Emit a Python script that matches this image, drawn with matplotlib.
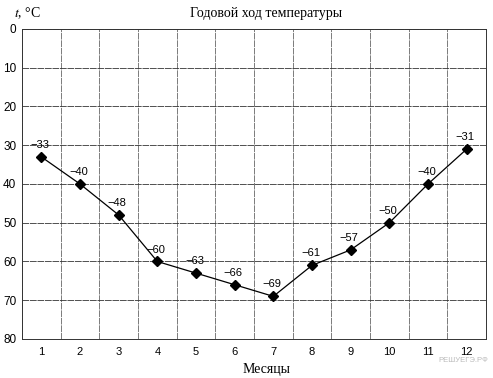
import matplotlib.pyplot as plt

months = list(range(1, 13))
temps = [-33, -40, -48, -60, -63, -66, -69, -61, -57, -50, -40, -31]
y_ticks = [0, 10, 20, 30, 40, 50, 60, 70, 80]

plt.rcParams['mathtext.fontset'] = 'stix'

fig = plt.figure(figsize=(4.93, 3.78), dpi=100)
ax = fig.add_axes([0.0446, 0.1032, 0.9412, 0.8201])

depth = [-t for t in temps]
ax.plot(months, depth, color='black', linewidth=0.9, marker='D', markersize=5,
        markerfacecolor='black', zorder=3)
for m, t, d in zip(months, temps, depth):
    ax.annotate('\u2212' + str(abs(t)), (m, d), xytext=(-1, 5), textcoords='offset points',
                ha='center', va='bottom', fontsize=8, family='Liberation Sans')

ax.set_xlim(0.5, 12.5)
ax.set_ylim(80, 0)
ax.set_xticks(months)
ax.set_xticks([m + 0.5 for m in range(0, 12)], minor=True)
ax.set_yticks(y_ticks)
ax.set_yticklabels([str(v) for v in y_ticks])
ax.tick_params(axis='x', which='both', length=0, labelsize=8, pad=6)
ax.tick_params(axis='y', length=0, labelsize=8.5, pad=4)
for lbl in ax.get_xticklabels() + ax.get_yticklabels():
    lbl.set_family('Liberation Sans')

ax.grid(True, which='minor', axis='x', color='#666666', linewidth=0.6, linestyle=(0, (8, 1)))
ax.grid(True, which='major', axis='y', color='#333333', linewidth=0.6, linestyle=(0, (8, 1)))
for s in ax.spines.values():
    s.set_linewidth(0.7)
    s.set_color('#333333')

fig.text(0.54, 0.965, 'Годовой ход температуры', ha='center', va='center',
         fontsize=10, family='Liberation Serif')
fig.text(0.028, 0.965, '$t$, °C', ha='left', va='center', fontsize=10,
         family='Liberation Serif')
fig.text(0.54, 0.022, 'Месяцы', ha='center', va='center', fontsize=10,
         family='Liberation Serif')
fig.text(0.99, 0.045, 'РЕШУЕГЭ.РФ', ha='right', va='center', fontsize=5.5,
         color='#bbbbbb', family='Liberation Sans')

fig.savefig('out.png', dpi=100)
